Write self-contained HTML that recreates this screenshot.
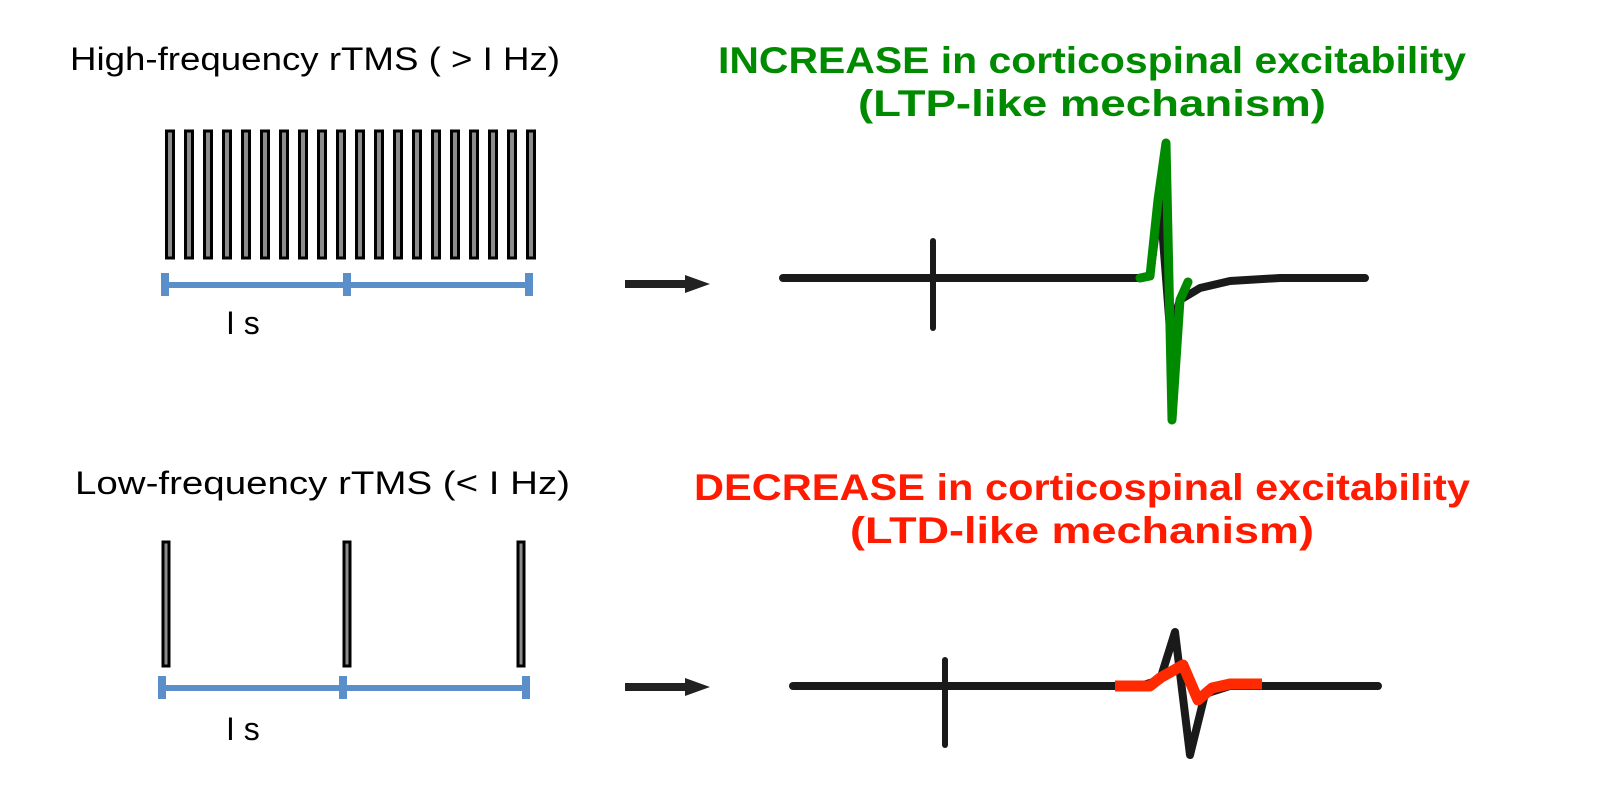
<!DOCTYPE html>
<html><head><meta charset="utf-8"><style>html,body{margin:0;padding:0;background:#fff}svg{display:block}</style></head>
<body>
<svg width="1597" height="809" viewBox="0 0 1597 809" xmlns="http://www.w3.org/2000/svg" font-family="Liberation Sans, sans-serif">
<g font-size="32" fill="#000">
<text x="70" y="70" textLength="490" lengthAdjust="spacingAndGlyphs">High-frequency rTMS ( &gt; I Hz)</text>
<text x="75" y="494" textLength="495" lengthAdjust="spacingAndGlyphs">Low-frequency rTMS (&lt; I Hz)</text>
<text x="226" y="334" font-size="32">I  s</text>
<text x="226" y="740" font-size="32">I  s</text>
</g>
<g font-size="37" font-weight="bold" text-anchor="middle">
<text x="1092" y="73" fill="#008a00" textLength="748" lengthAdjust="spacingAndGlyphs">INCREASE in corticospinal excitability</text>
<text x="1092" y="116" fill="#008a00" textLength="468" lengthAdjust="spacingAndGlyphs">(LTP-like mechanism)</text>
<text x="1082" y="500" fill="#ff1a00" textLength="776" lengthAdjust="spacingAndGlyphs">DECREASE in corticospinal excitability</text>
<text x="1082" y="543" fill="#ff1a00" textLength="464" lengthAdjust="spacingAndGlyphs">(LTD-like mechanism)</text>
</g>
<g fill="#8c8c8c" stroke="#000" stroke-width="3">
<rect x="166.5" y="131" width="7" height="127"/><rect x="185.5" y="131" width="7" height="127"/><rect x="204.5" y="131" width="7" height="127"/><rect x="223.5" y="131" width="7" height="127"/><rect x="242.5" y="131" width="7" height="127"/><rect x="261.5" y="131" width="7" height="127"/><rect x="280.5" y="131" width="7" height="127"/><rect x="299.5" y="131" width="7" height="127"/><rect x="318.5" y="131" width="7" height="127"/><rect x="337.5" y="131" width="7" height="127"/><rect x="356.5" y="131" width="7" height="127"/><rect x="375.5" y="131" width="7" height="127"/><rect x="394.5" y="131" width="7" height="127"/><rect x="413.5" y="131" width="7" height="127"/><rect x="432.5" y="131" width="7" height="127"/><rect x="451.5" y="131" width="7" height="127"/><rect x="470.5" y="131" width="7" height="127"/><rect x="489.5" y="131" width="7" height="127"/><rect x="508.5" y="131" width="7" height="127"/><rect x="527.5" y="131" width="7" height="127"/>
<rect x="163" y="542" width="6" height="124"/><rect x="344" y="542" width="6" height="124"/><rect x="518" y="542" width="6" height="124"/>
</g>
<g stroke="#5b8fc9" fill="none">
<path d="M165 285H529" stroke-width="6"/>
<path d="M165 273V296M347 273V296M529 273V296" stroke-width="8"/>
<path d="M162 688H526" stroke-width="6"/>
<path d="M162 676V699M343 676V699M526 676V699" stroke-width="8"/>
</g>
<g fill="#222">
<path d="M625 280H685V275L710 284L685 293V288H625Z"/>
<path d="M625 683H685V678L710 687L685 696V691H625Z"/>
</g>
<g fill="none" stroke="#1a1a1a" stroke-linecap="round" stroke-linejoin="round">
<path d="M783 278H1140L1150 276L1160 200L1170 330L1180 300L1200 288L1230 281L1280 278H1365" stroke-width="8"/>
<path d="M933 241V328" stroke-width="6"/>
<path d="M793 686H1140L1160 680L1175 632L1190 755L1205 694L1230 686H1378" stroke-width="8"/>
<path d="M945 660V745" stroke-width="6"/>
</g>
<path d="M1140 278L1150 276L1158 200L1166 143L1172 420L1180 300L1188 282" fill="none" stroke="#008a00" stroke-width="9" stroke-linejoin="round" stroke-linecap="round"/>
<path d="M1115 686H1150L1160 678L1183 665L1198 700L1212 688L1230 684H1262" fill="none" stroke="#ff2a00" stroke-width="11" stroke-linejoin="round"/>
</svg>
</body></html>
